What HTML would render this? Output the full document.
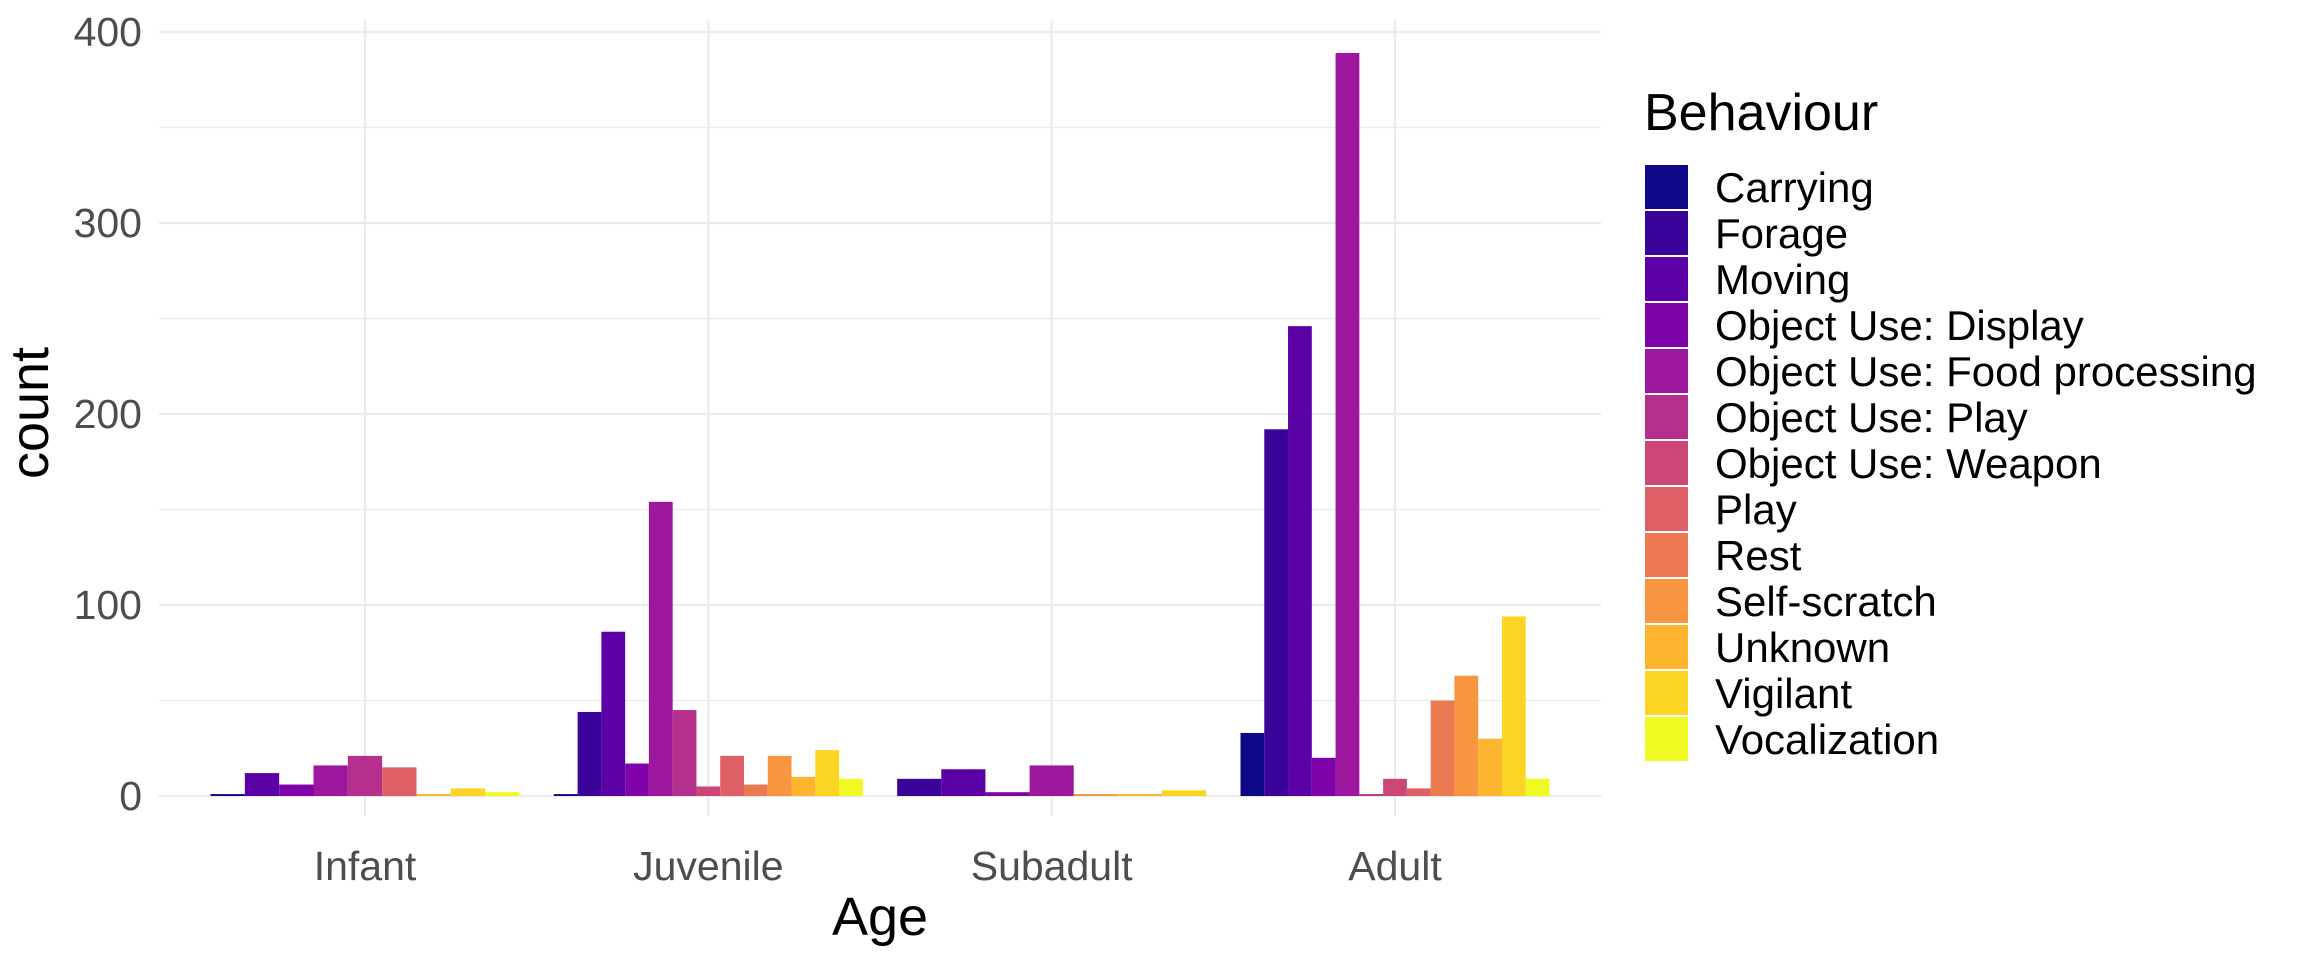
<!DOCTYPE html>
<html><head><meta charset="utf-8"><style>
body{margin:0;background:#fff;}
svg{display:block;font-family:"Liberation Sans",Arial,sans-serif;}
</style></head><body>
<svg id="chart" width="2304" height="960"></svg>
<script>
const categories = ["Infant","Juvenile","Subadult","Adult"];
const behaviours = ["Carrying","Forage","Moving","Object Use: Display","Object Use: Food processing","Object Use: Play","Object Use: Weapon","Play","Rest","Self-scratch","Unknown","Vigilant","Vocalization"];
const colors = ["#0D0887","#3A049A","#5C01A6","#7E03A8","#9C179E","#B52F8C","#CC4778","#DE5F65","#ED7953","#F89540","#FDB42F","#FBD424","#F0F921"];
// null = behaviour absent in that age group
const infantValues   = [1,null,12,6,16,21,null,15,null,null,1,4,2];
const juvenileValues = [1,44,86,17,154,45,5,21,6,21,10,24,9];
const subadultValues = [null,9,14,2,16,null,null,null,null,1,1,3,null];
const adultValues    = [33,192,246,20,389,1,9,4,50,63,30,94,9];
const yTicks = [0,100,200,300,400];
const yMinor = [50,150,250,350];

const series = [infantValues, juvenileValues, subadultValues, adultValues];
const NS = "http://www.w3.org/2000/svg";
const svg = document.getElementById("chart");
const L = 159, R = 1601, T = 20, B = 796;
const y = v => B - v * (B - 32) / 400;
const unit = (R - L) / 4.2;
const x = i => L + (0.6 + i) * unit;
function mk(tag, attrs, parent) {
  const e = document.createElementNS(NS, tag);
  for (const k in attrs) e.setAttribute(k, attrs[k]);
  (parent || svg).appendChild(e);
  return e;
}
yMinor.forEach(v => { const g = mk("line", {x1:L, x2:R, y1:y(v), y2:y(v), stroke:"#ebebeb", "stroke-width":1.2});
  
   });
yTicks.forEach(v => {
  const g = mk("line", {x1:L, x2:R, y1:y(v), y2:y(v), stroke:"#ebebeb", "stroke-width":2.2});
  
  
  const t = mk("text", {x:142, y:y(v)+14, "text-anchor":"end", "font-size":41, fill:"#4d4d4d"});
  t.textContent = v;
  
  
});
categories.forEach((c, i) => {
  const g = mk("line", {x1:x(i), x2:x(i), y1:T, y2:B+20, stroke:"#ebebeb", "stroke-width":2.2});
  
  
});
categories.forEach((c, i) => {
  const vals = series[i];
  const idx = [];
  vals.forEach((v, j) => { if (v !== null) idx.push(j); });
  const w = 0.9 * unit / idx.length;
  const start = x(i) - 0.45 * unit;
  idx.forEach((j, k) => {
    const v = vals[j];
    const r = mk("rect", {x:start + k*w, y:y(v), width:w, height:B - y(v), fill:colors[j]});
    
    
  });
  const t = mk("text", {x:x(i), y:880, "text-anchor":"middle", "font-size":41, fill:"#4d4d4d"});
  t.textContent = c;
  
  
});
const xt = mk("text", {x:(L+R)/2, y:935, "text-anchor":"middle", "font-size":54, fill:"#000"});
xt.textContent = "Age";


const yt = mk("text", {x:0, y:0, transform:"translate(48,413) rotate(-90)", "text-anchor":"middle", "font-size":54, fill:"#000"});
yt.textContent = "count";


const lt = mk("text", {x:1644, y:130, "font-size":52, fill:"#000"});
lt.textContent = "Behaviour";


behaviours.forEach((b, j) => {
  const top = 165 + j * 46;
  const r = mk("rect", {x:1645, y:top, width:43, height:44, fill:colors[j]});
  
  
  const t = mk("text", {x:1715, y:top+37, "font-size":42, fill:"#000"});
  t.textContent = b;
  
  
});
</script>
</body></html>
